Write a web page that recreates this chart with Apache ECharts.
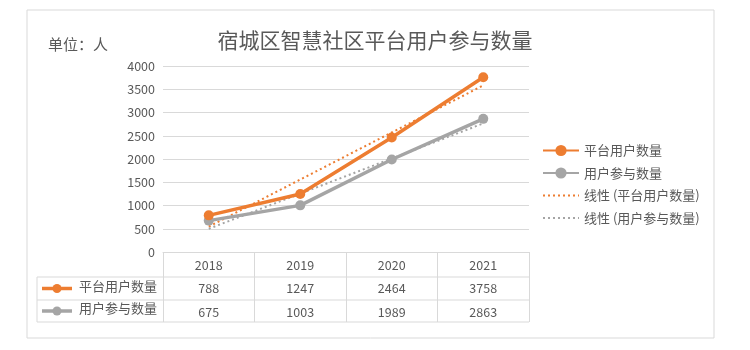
<!DOCTYPE html>
<html>
<head>
<meta charset="utf-8">
<script src="https://cdn.jsdelivr.net/npm/echarts@6/dist/echarts.min.js"></script>
<style>html,body{margin:0;padding:0;background:#fff}#c{width:750px;height:350px}</style>
</head>
<body>
<div id="c"></div>
<script>
var years = ['2018', '2019', '2020', '2021'];
var platformUsers = [788, 1247, 2464, 3758];
var participants = [675, 1003, 1989, 2863];
var platformTrend = [545, 1558, 2571, 3583];
var participantTrend = [500, 1255, 2010, 2765];
var seriesNames = ['平台用户数量', '用户参与数量'];
var trendNames = ['线性 (平台用户数量)', '线性 (用户参与数量)'];
var yTicks = [0, 500, 1000, 1500, 2000, 2500, 3000, 3500, 4000];

var ORANGE = '#ED7D31', GRAY = '#A5A5A5', TXT = '#595959', LINE = '#D9D9D9';
var FONT = '"Noto Sans CJK SC", "Noto Sans", sans-serif';

var chart = echarts.init(document.getElementById('c'));

function rowKey(y, color, name) {
  return [
    {type: 'line', shape: {x1: 42, y1: y, x2: 72, y2: y}, style: {stroke: color, lineWidth: 3.5}},
    {type: 'circle', shape: {cx: 57, cy: y, r: 4.5}, style: {fill: color}},
    {type: 'text', left: 79, top: y - 9, style: {text: name, fill: TXT, font: '13px ' + FONT}}
  ];
}

var graphics = [
  {type: 'rect', shape: {x: 27, y: 10, width: 687, height: 328}, style: {fill: 'none', stroke: LINE, lineWidth: 1}},
  {type: 'text', left: 48, top: 37, style: {text: '单位：人', fill: TXT, font: '15px ' + FONT}},
  {type: 'line', shape: {x1: 37, y1: 277, x2: 529, y2: 277}, style: {stroke: LINE, lineWidth: 1}},
  {type: 'line', shape: {x1: 37, y1: 300, x2: 529, y2: 300}, style: {stroke: LINE, lineWidth: 1}},
  {type: 'line', shape: {x1: 37, y1: 322, x2: 529, y2: 322}, style: {stroke: LINE, lineWidth: 1}},
  {type: 'line', shape: {x1: 37, y1: 277, x2: 37, y2: 322}, style: {stroke: LINE, lineWidth: 1}}
].concat(rowKey(288.5, ORANGE, seriesNames[0])).concat(rowKey(311, GRAY, seriesNames[1]));

chart.setOption({
  backgroundColor: '#fff',
  animation: false,
  title: {
    text: '宿城区智慧社区平台用户参与数量',
    left: 370, top: 25, textAlign: 'center',
    textStyle: {color: TXT, fontSize: 21, fontWeight: 'normal', fontFamily: FONT}
  },
  legend: {
    orient: 'vertical', left: 537, top: 139,
    itemWidth: 36, itemHeight: 14, itemGap: 9.5,
    textStyle: {color: TXT, fontSize: 13, fontFamily: FONT},
    data: [
      {name: seriesNames[0]},
      {name: seriesNames[1]},
      {name: trendNames[0], itemStyle: {opacity: 0}},
      {name: trendNames[1], itemStyle: {opacity: 0}}
    ]
  },
  grid: {left: 163, right: 221, top: 66, bottom: 98, containLabel: false},
  xAxis: {
    type: 'category', data: years, boundaryGap: true,
    axisLine: {lineStyle: {color: LINE}},
    axisTick: {show: true, length: 70, lineStyle: {color: LINE}},
    axisLabel: {
      margin: 1, color: TXT, fontSize: 12.5, fontFamily: FONT, lineHeight: 23.5,
      formatter: function (v, i) { return v + '\n' + platformUsers[i] + '\n' + participants[i]; }
    }
  },
  yAxis: {
    type: 'value', min: yTicks[0], max: yTicks[yTicks.length - 1], interval: 500,
    axisLine: {show: false}, axisTick: {show: false},
    axisLabel: {color: TXT, fontSize: 12.5, fontFamily: FONT, margin: 8,
      formatter: function (v) { return String(v); }},
    splitLine: {lineStyle: {color: LINE, width: 1}}
  },
  series: [
    {name: seriesNames[0], type: 'line', data: platformUsers, symbol: 'circle', symbolSize: 10,
     lineStyle: {color: ORANGE, width: 3.5}, itemStyle: {color: ORANGE}, z: 4},
    {name: seriesNames[1], type: 'line', data: participants, symbol: 'circle', symbolSize: 10,
     lineStyle: {color: GRAY, width: 3.5}, itemStyle: {color: GRAY}, z: 3},
    {name: trendNames[0], type: 'line', data: platformTrend, symbol: 'none',
     lineStyle: {color: ORANGE, width: 2, type: [2, 3]}, itemStyle: {color: ORANGE}, z: 2},
    {name: trendNames[1], type: 'line', data: participantTrend, symbol: 'none',
     lineStyle: {color: GRAY, width: 2, type: [2, 3]}, itemStyle: {color: GRAY}, z: 2}
  ],
  graphic: graphics
});
</script>
</body>
</html>
